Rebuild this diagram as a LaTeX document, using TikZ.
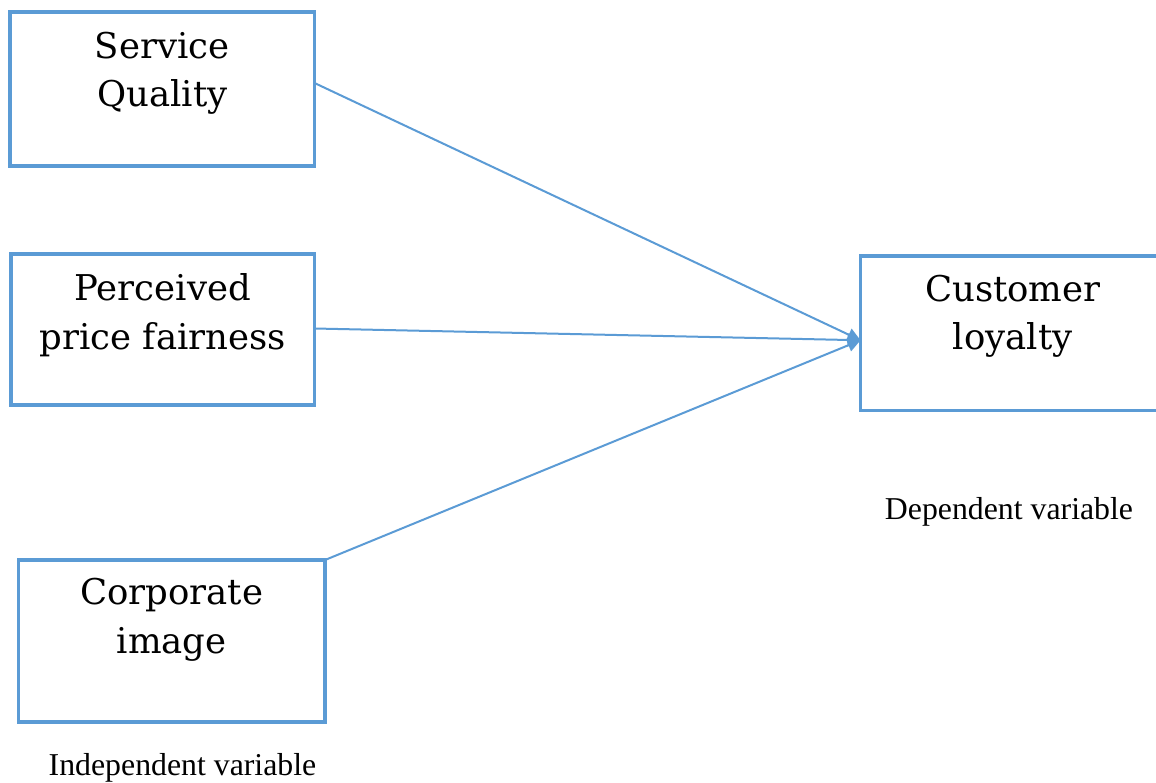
\documentclass[tikz,border=0pt]{standalone}
\usepackage{fontspec}
\setmainfont{Liberation Serif}
\newfontfamily\boxfont{DejaVu Serif}
\usetikzlibrary{arrows.meta}
\definecolor{edge}{RGB}{91,155,213}

\begin{document}
\begin{tikzpicture}[x=1pt,y=-1pt,
  varbox/.style={draw=edge, line width=3.5pt, inner sep=0pt, outer sep=0pt, anchor=north west},
  boxtext/.style={font=\boxfont\fontsize{35.5}{48.5}\selectfont, align=center, anchor=base, inner sep=0pt},
  caption/.style={font=\fontsize{31.8}{36}\selectfont, anchor=base, inner sep=0pt},
  link/.style={draw=edge, line width=2pt, -{Triangle[length=13pt,width=13pt]}}]

  \useasboundingbox (0,0) rectangle (1156,783);

  % independent variables
  \node[varbox, minimum width=304.5pt, minimum height=154pt] (sq) at (10,12) {};
  \node[varbox, minimum width=303.5pt, minimum height=151pt] (pf) at (11,254) {};
  \node[varbox, minimum width=306.5pt, minimum height=162pt] (ci) at (18.5,560) {};
  % dependent variable
  \node[varbox, minimum width=304.5pt, minimum height=154.5pt] (cl) at (860.5,256) {};

  % labels (base anchor sits on the last line)
  \node[boxtext] (sqt) at ([yshift=-95pt]sq.north) {Service\\Quality};
  \node[boxtext] (pft) at ([yshift=-95pt]pf.north) {Perceived\\price fairness};
  \node[boxtext] (cit) at ([yshift=-93pt]ci.north) {Corporate\\image};
  \node[boxtext] (clt) at ([yshift=-94pt]cl.north) {Customer\\loyalty};

  \node[caption] (iv) at (182.5,775) {Independent variable};
  \node[caption] (dv) at (1009,519) {Dependent variable};

  % connectors
  \coordinate (tip) at ([yshift=-7pt]cl.west);
  \draw[link] ([yshift=6pt]sq.east) -- (tip);
  \draw[link] ([yshift=1pt]pf.east) -- (tip);
  \draw[link] (ci.north east) -- (tip);
\end{tikzpicture}
\end{document}
